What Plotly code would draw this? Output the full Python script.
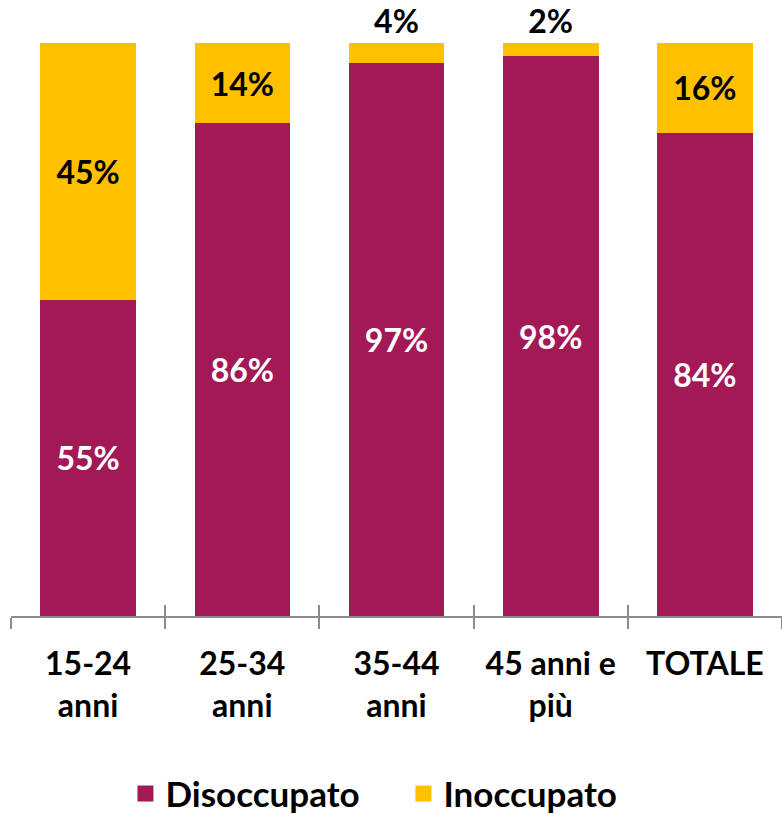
import plotly.graph_objects as go

categories = ["15-24<br>anni", "25-34<br>anni", "35-44<br>anni", "45 anni e<br>più", "TOTALE"]
disoccupato = [55.2, 86.0, 96.5, 97.7, 84.3]
inoccupato = [44.8, 14.0, 3.5, 2.3, 15.7]
disoccupato_labels = ["55%", "86%", "97%", "98%", "84%"]
inoccupato_labels = ["45%", "14%", "4%", "2%", "16%"]
inoccupato_textpos = ["inside", "inside", "outside", "outside", "inside"]

PURPLE = "#A31956"
YELLOW = "#FFC000"
FONT = "Lato"

fig = go.Figure()
fig.add_trace(go.Bar(
    x=categories, y=disoccupato, name="Disoccupato",
    marker=dict(color=PURPLE, line=dict(width=0)),
    text=disoccupato_labels, textposition="inside", insidetextanchor="middle",
    textfont=dict(family=FONT, size=32, color="white", weight="bold"),
    showlegend=False, hoverinfo="skip",
))
fig.add_trace(go.Bar(
    x=categories, y=inoccupato, name="Inoccupato",
    marker=dict(color=YELLOW, line=dict(width=0)),
    text=inoccupato_labels, textposition=inoccupato_textpos, insidetextanchor="middle",
    textfont=dict(family=FONT, size=32, color="black", weight="bold"),
    outsidetextfont=dict(family=FONT, size=32, color="black", weight="bold"),
    cliponaxis=False, constraintext="none",
    showlegend=False, hoverinfo="skip",
))
# legend entries
for name, col in [("Disoccupato", PURPLE), ("Inoccupato", YELLOW)]:
    fig.add_trace(go.Scatter(
        x=[None], y=[None], mode="markers", name=name,
        marker=dict(symbol="square", size=24, color=col),
        showlegend=True, hoverinfo="skip",
    ))
# helper for crossing tick marks
fig.add_trace(go.Scatter(
    x=categories, y=[None] * len(categories), xaxis="x2", mode="markers",
    showlegend=False, hoverinfo="skip",
))

fig.update_layout(
    width=782, height=814,
    barmode="stack", bargap=0.38,
    margin=dict(l=11, r=0, t=43, b=198, autoexpand=False),
    plot_bgcolor="white", paper_bgcolor="white",
    font=dict(family=FONT, color="black"),
    xaxis=dict(
        type="category", showline=True, linecolor="#8C8C8C", linewidth=1.5,
        ticks="outside", ticklen=11, tickcolor="#8C8C8C", tickwidth=1.5,
        tickson="boundaries", showgrid=False, automargin=False,
        tickfont=dict(family=FONT, size=32, color="black", weight="bold"),
        ticklabelstandoff=19,
    ),
    xaxis2=dict(
        type="category", overlaying="x", anchor="y", side="bottom",
        categoryarray=categories, categoryorder="array", range=[-0.5, 4.5],
        ticks="inside", ticklen=11, tickcolor="#8C8C8C", tickwidth=1.5,
        tickson="boundaries", showticklabels=False, showline=False, showgrid=False,
        automargin=False,
    ),
    yaxis=dict(range=[0, 100], visible=False, fixedrange=True, automargin=False),
    legend=dict(
        orientation="h", x=0.509, xanchor="center", y=-0.31, yanchor="middle",
        font=dict(family=FONT, size=35, color="black", weight="bold"),
        itemsizing="trace", traceorder="normal",
        entrywidth=233, entrywidthmode="pixels",
    ),
)

fig.write_html(
    "out.html",
    config={"displayModeBar": False},
    post_script="document.body.style.margin='0px';document.body.style.overflow='hidden';",
)
